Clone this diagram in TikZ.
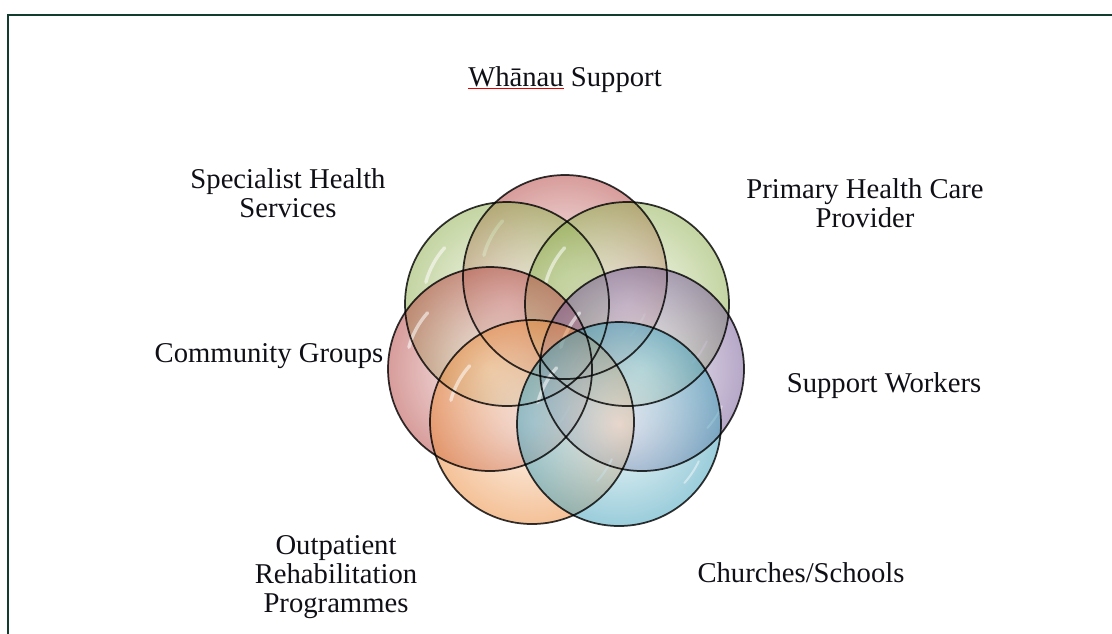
\documentclass[tikz,border=0pt]{standalone}
\usepackage{fontspec}
\setmainfont{Liberation Serif}

\definecolor{framegreen}{RGB}{18,60,45}
\definecolor{textdark}{RGB}{15,15,22}
\definecolor{bubred}{HTML}{C0504D}
\definecolor{bubgreen}{HTML}{9BBB59}
\definecolor{bubpurple}{HTML}{8064A2}
\definecolor{bubaqua}{HTML}{4BACC6}
\definecolor{buborange}{HTML}{F79646}

% red spell-check line under a word
\newcommand{\spellmark}[1]{\textcolor{red!90!black}{\underline{\textcolor{textdark}{#1}}}}

\tikzset{
	bubble/.style={circle, minimum size=153pt, inner sep=0pt,
		inner color=#1!10, outer color=#1!95!black, fill opacity=0.55,
		path picture={
			% glossy streak on the left, small glint bottom right
			\draw[white, line width=2.5pt, line cap=round, draw opacity=0.55]
				([shift={(195:84)}]path picture bounding box.center) arc[start angle=195, end angle=222, radius=84];
			\draw[white, line width=1.5pt, line cap=round, draw opacity=0.45]
				([shift={(25:88)}]path picture bounding box.center) arc[start angle=25, end angle=42, radius=88];
		}},
	rim/.style={draw=black, line width=1.3pt, draw opacity=0.8},
	lbl/.style={text=textdark, align=center, font=\fontsize{21.5}{21.5}\selectfont, inner sep=0pt}
}

\begin{document}
\begin{tikzpicture}[x=0.75pt, y=-0.75pt]
		\useasboundingbox (0,0) rectangle (1112,633);
		%frame
		\draw[framegreen, line width=1.9pt] (8,640) -- (8,15) -- (1120,15);
		%bubbles
		\node[bubble=bubred]    (cWhanau)     at (565,277) {};
		\node[bubble=bubgreen]  (cSpecialist) at (507,304) {};
		\node[bubble=bubgreen]  (cPrimary)    at (627,304) {};
		\node[bubble=bubred]    (cCommunity)  at (490,369) {};
		\node[bubble=bubpurple] (cWorkers)    at (642,369) {};
		\node[bubble=buborange] (cOutpatient) at (532,422) {};
		\node[bubble=bubaqua]   (cChurches)   at (619,424) {};
		%outlines on top so every rim shows
		\foreach \c in {cWhanau, cSpecialist, cPrimary, cCommunity, cWorkers, cOutpatient, cChurches}
			\draw[rim] (\c.center) circle[radius=102];
		%labels (base = last line)
		\node[lbl, anchor=base] (whanau)     at (565,86)  {\spellmark{Whānau} Support};
		\node[lbl, anchor=base] (specialist) at (288,217) {Specialist Health\\Services};
		\node[lbl, anchor=base] (primary)    at (865,227) {Primary Health Care\\Provider};
		\node[lbl, anchor=base] (community)  at (269,362) {Community Groups};
		\node[lbl, anchor=base] (workers)    at (884,392) {Support Workers};
		\node[lbl, anchor=base] (outpatient) at (336,612) {Outpatient\\Rehabilitation\\Programmes};
		\node[lbl, anchor=base] (churches)   at (801,582) {Churches/Schools};
\end{tikzpicture}
\end{document}
